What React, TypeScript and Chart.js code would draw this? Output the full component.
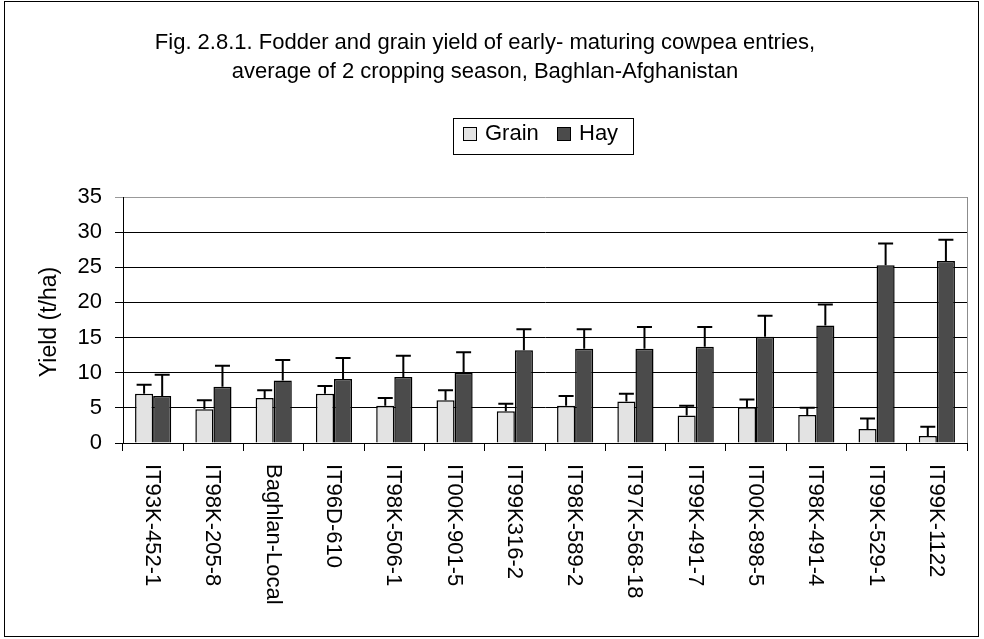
import React, { useEffect, useRef } from 'react';
import { Chart, registerables } from 'chart.js';

Chart.register(...registerables);

const FONT = "'Liberation Sans', Arial, sans-serif";

const titleLines = [
  'Fig. 2.8.1. Fodder and grain yield of early- maturing cowpea entries,',
  'average of 2 cropping season, Baghlan-Afghanistan',
];
const yTitle = 'Yield (t/ha)';

const categories = [
  'IT93K-452-1',
  'IT98K-205-8',
  'Baghlan-Local',
  'IT96D-610',
  'IT98K-506-1',
  'IT00K-901-5',
  'IT99K316-2',
  'IT98K-589-2',
  'IT97K-568-18',
  'IT99K-491-7',
  'IT00K-898-5',
  'IT98K-491-4',
  'IT99K-529-1',
  'IT99K-1122',
];

const grainLabel = 'Grain';
const hayLabel = 'Hay';

const grain = [7.0, 4.8, 6.4, 7.0, 5.3, 6.1, 4.5, 5.3, 5.9, 3.9, 5.1, 4.0, 2.0, 1.0];
const grainErr = [1.3, 1.3, 1.1, 1.1, 1.1, 1.4, 1.1, 1.4, 1.1, 1.4, 1.1, 1.0, 1.5, 1.3];
const hay = [6.7, 8.0, 8.9, 9.1, 9.4, 10.0, 13.2, 13.4, 13.4, 13.7, 15.1, 16.7, 25.3, 25.9];
const hayErr = [3.0, 3.0, 2.9, 3.0, 3.0, 2.9, 3.0, 2.8, 3.1, 2.8, 3.0, 3.0, 3.1, 3.0];

const yMin = 0;
const yMax = 35;
const yStep = 5;

const GRAIN_COLOR = '#e3e3e3';
const HAY_COLOR = '#4b4b4b';

const errors = [grainErr, hayErr];

const errorBarPlugin = {
  id: 'errorBars',
  afterDatasetsDraw(chart: any) {
    const ctx = chart.ctx;
    const yScale = chart.scales.y;
    ctx.save();
    ctx.strokeStyle = '#000';
    ctx.lineWidth = 2;
    chart.data.datasets.forEach((ds: any, di: number) => {
      const meta = chart.getDatasetMeta(di);
      meta.data.forEach((el: any, i: number) => {
        const v = ds.data[i];
        const e = errors[di][i];
        const yTop = yScale.getPixelForValue(v + e);
        const x = el.x;
        ctx.beginPath();
        ctx.moveTo(x, el.y);
        ctx.lineTo(x, yTop);
        ctx.moveTo(x - 7.5, yTop);
        ctx.lineTo(x + 7.5, yTop);
        ctx.stroke();
      });
    });
    ctx.restore();
  },
};

const decorPlugin = {
  id: 'decor',
  afterDraw(chart: any) {
    const ctx = chart.ctx;
    const area = chart.chartArea;
    const xs = chart.scales.x;
    ctx.save();

    // outer frame
    ctx.strokeStyle = '#000';
    ctx.lineWidth = 1;
    ctx.strokeRect(4.5, 1.5, 974, 635);

    // plot right border
    ctx.strokeStyle = '#8c8c8c';
    ctx.beginPath();
    ctx.moveTo(Math.round(area.right) + 0.5, area.top);
    ctx.lineTo(Math.round(area.right) + 0.5, area.bottom);
    ctx.stroke();

    // title
    ctx.fillStyle = '#000';
    ctx.font = `22px ${FONT}`;
    ctx.textAlign = 'center';
    ctx.textBaseline = 'middle';
    titleLines.forEach((t, i) => ctx.fillText(t, 485, 43 + i * 29));

    // legend
    ctx.strokeStyle = '#000';
    ctx.lineWidth = 1;
    ctx.strokeRect(453.5, 118.5, 180, 36);
    ctx.fillStyle = GRAIN_COLOR;
    ctx.fillRect(463.5, 127.5, 13, 13);
    ctx.strokeRect(463.5, 127.5, 13, 13);
    ctx.fillStyle = HAY_COLOR;
    ctx.fillRect(557.5, 127.5, 13, 13);
    ctx.strokeRect(557.5, 127.5, 13, 13);
    ctx.fillStyle = '#000';
    ctx.textAlign = 'left';
    ctx.textBaseline = 'alphabetic';
    ctx.fillText(grainLabel, 485, 140);
    ctx.fillText(hayLabel, 579, 140);

    // x labels rotated clockwise
    ctx.font = `22px ${FONT}`;
    categories.forEach((c, i) => {
      const x = xs.getPixelForValue(i);
      ctx.save();
      ctx.translate(x, 464);
      ctx.rotate(Math.PI / 2);
      ctx.textAlign = 'left';
      ctx.textBaseline = 'middle';
      ctx.fillText(c, 0, 1);
      ctx.restore();
    });

    // y title
    ctx.font = `23px ${FONT}`;
    ctx.save();
    ctx.translate(50, (area.top + area.bottom) / 2 + 2);
    ctx.rotate(-Math.PI / 2);
    ctx.textAlign = 'center';
    ctx.textBaseline = 'middle';
    ctx.fillText(yTitle, 0, 0);
    ctx.restore();

    ctx.restore();
  },
};

export default function App() {
  const canvasRef = useRef<HTMLCanvasElement | null>(null);

  useEffect(() => {
    const canvas = canvasRef.current;
    if (!canvas) return;
    const chart = new Chart(canvas, {
      type: 'bar',
      data: {
        labels: categories,
        datasets: [
          {
            label: grainLabel,
            data: grain,
            backgroundColor: GRAIN_COLOR,
            borderColor: '#000',
            borderWidth: 1.5,
            categoryPercentage: 0.6,
            barPercentage: 1.0,
          },
          {
            label: hayLabel,
            data: hay,
            backgroundColor: HAY_COLOR,
            borderColor: '#000',
            borderWidth: 1.5,
            categoryPercentage: 0.6,
            barPercentage: 1.0,
          },
        ],
      },
      options: {
        responsive: false,
        animation: false,
        devicePixelRatio: 1,
        layout: { padding: { left: 0, right: 17, top: 197, bottom: 0 } },
        plugins: {
          legend: { display: false },
          title: { display: false },
          tooltip: { enabled: false },
        },
        scales: {
          x: {
            type: 'category',
            grid: {
              display: true,
              drawOnChartArea: false,
              drawTicks: true,
              tickLength: 8,
              color: '#000',
              offset: true,
            },
            border: { display: true, color: '#000', width: 1 },
            ticks: { display: false },
            afterFit: (s: any) => {
              s.height = 196;
            },
          },
          y: {
            min: yMin,
            max: yMax,
            ticks: {
              stepSize: yStep,
              color: '#000',
              font: { family: FONT, size: 22 },
              padding: 13,
            },
            grid: {
              color: (c: any) => (c.tick && c.tick.value === yMax ? '#999' : '#000'),
              lineWidth: 1,
              tickLength: 8,
              drawTicks: true,
            },
            border: { display: true, color: '#000', width: 1 },
            afterFit: (s: any) => {
              s.width = 123;
            },
          },
        },
      },
      plugins: [errorBarPlugin, decorPlugin],
    });
    return () => chart.destroy();
  }, []);

  return (
    <div style={{ position: 'absolute', left: 0, top: 0, width: 984, height: 639, background: '#fff' }}>
      <canvas ref={canvasRef} width={984} height={639} style={{ display: 'block' }} />
    </div>
  );
}
